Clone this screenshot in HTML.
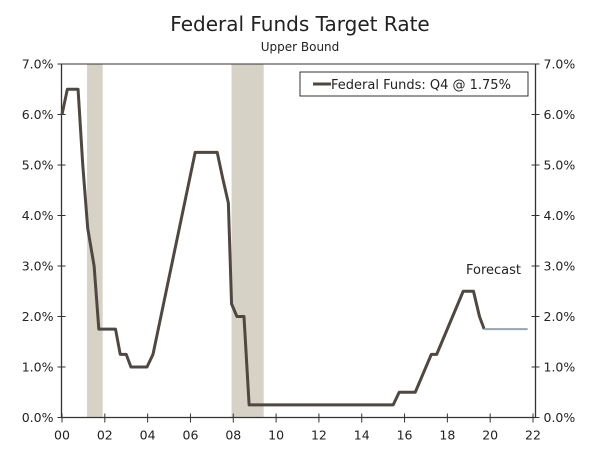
<!DOCTYPE html>
<html><head><meta charset="utf-8"><style>
body{margin:0;background:#fff;}
svg text{font-family:"DejaVu Sans","Liberation Sans",sans-serif;fill:#222;}
</style></head><body>
<svg id="chart" width="600" height="446" viewBox="0 0 600 446">
<text x="300" y="31" font-size="20" text-anchor="middle">Federal Funds Target Rate</text>
<text x="300" y="51" font-size="12" text-anchor="middle">Upper Bound</text>
<g id="rec"></g>
<g id="axes"></g>
<g id="series"></g>
<rect x="300" y="72" width="228" height="24" fill="#fff" stroke="#333" stroke-width="1"/>
<line x1="313" y1="84" x2="331" y2="84" stroke="#4f4840" stroke-width="3"/>
<text x="331" y="89" font-size="13">Federal Funds: Q4 @ 1.75%</text>
<text x="466" y="274" font-size="13">Forecast</text>
</svg>
<script>
const recessions=[[1.17,1.9],[7.92,9.42]];
const years=[0,0.25,0.75,0.97,1.2,1.5,1.72,2.5,2.72,3.0,3.22,3.97,4.25,6.22,7.25,7.5,7.77,7.92,8.17,8.5,8.74,15.47,15.75,16.5,17.25,17.5,18.74,19.22,19.5,19.72];
const rates=[6.0,6.5,6.5,5.0,3.75,3.0,1.75,1.75,1.25,1.25,1.0,1.0,1.25,5.25,5.25,4.75,4.25,2.25,2.0,2.0,0.25,0.25,0.5,0.5,1.25,1.25,2.5,2.5,2.0,1.75];
const forecastYears=[19.72,21.75];
const forecastRates=[1.75,1.75];
const yTicks=[0,1,2,3,4,5,6,7];
const xTicks=[0,2,4,6,8,10,12,14,16,18,20,22];
const xTickLabels=["00","02","04","06","08","10","12","14","16","18","20","22"];
const NS="http://www.w3.org/2000/svg";
const X0=62,X1=533,Y0=417.5,Y1=64,L=61.5,R=535.5;
const xs=v=>X0+(X1-X0)*v/22, ys=v=>Y0-(Y0-Y1)*v/7;
function mk(t,a,p){const e=document.createElementNS(NS,t);for(const k in a)e.setAttribute(k,a[k]);p.appendChild(e);return e;}
const rec=document.getElementById('rec'),ax=document.getElementById('axes'),se=document.getElementById('series');
recessions.forEach(r=>{const e=mk('rect',{x:xs(r[0]),y:Y1,width:xs(r[1])-xs(r[0]),height:Y0-Y1,fill:'#d6d2c6'},rec);

});
let e=mk('line',{x1:L,y1:Y1,x2:R,y2:Y1,stroke:'#333','stroke-width':1},ax);
e=mk('path',{d:`M${L},${Y1}V${Y0}H${R}V${Y1}`,fill:'none',stroke:'#333','stroke-width':1.3},ax);


yTicks.forEach(v=>{const y=ys(v);
mk('line',{x1:L-4,y1:y,x2:L+4,y2:y,stroke:'#333'},ax);mk('line',{x1:R-4,y1:y,x2:R+4,y2:y,stroke:'#333'},ax);
let t=mk('text',{x:L-8,y:y+4.5,'font-size':12.5,'text-anchor':'end'},ax);t.textContent=v.toFixed(1)+'%';


t=mk('text',{x:R+8,y:y+4.5,'font-size':12.5},ax);t.textContent=v.toFixed(1)+'%';

});
xTicks.forEach((v,i)=>{const x=xs(v);mk('line',{x1:x,y1:Y0-4,x2:x,y2:Y0+5,stroke:'#333'},ax);
const t=mk('text',{x:x,y:Y0+22,'font-size':12.5,'text-anchor':'middle'},ax);t.textContent=xTickLabels[i];

});
let p=mk('polyline',{points:years.map((y,i)=>xs(y)+','+ys(rates[i])).join(' '),fill:'none',stroke:'#4f4840','stroke-width':3,'stroke-linejoin':'round'},se);


p=mk('polyline',{points:forecastYears.map((y,i)=>xs(y)+','+ys(forecastRates[i])).join(' '),fill:'none',stroke:'#8fa6b2','stroke-width':2},se);


</script>
</body></html>
